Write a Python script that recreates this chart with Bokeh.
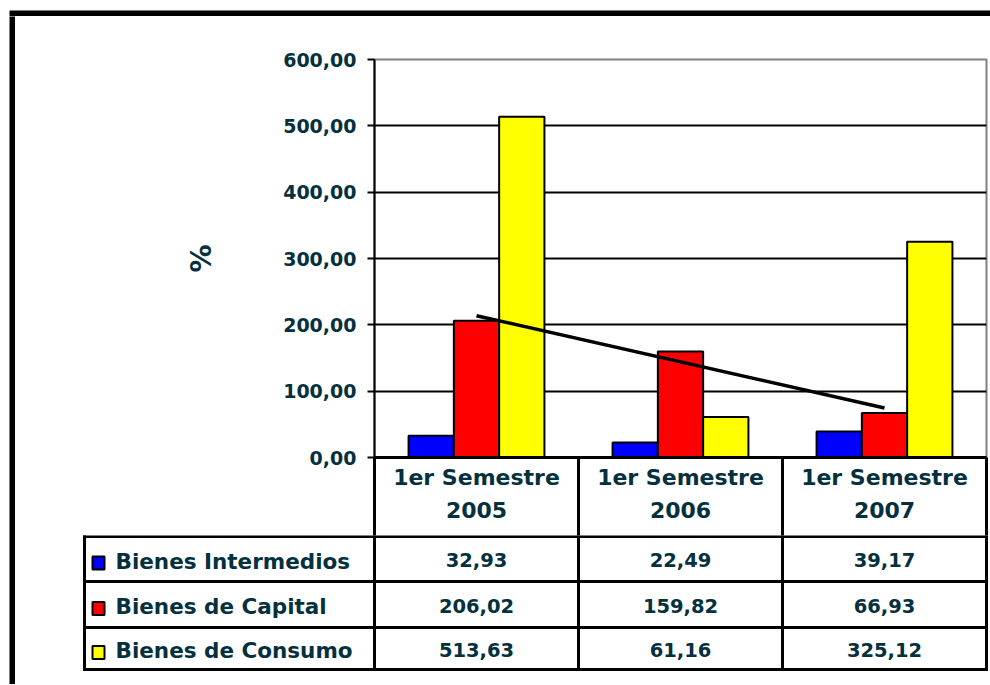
import numpy as np
from bokeh.plotting import figure
from bokeh.layouts import column, row
from bokeh.models import (Range1d, FixedTicker, CustomJSTickFormatter,
                          ColumnDataSource, Spacer)
from bokeh.core.properties import value
from bokeh.embed import file_html
from bokeh.resources import INLINE

# ---------------- data ----------------
categories = ["1er Semestre 2005", "1er Semestre 2006", "1er Semestre 2007"]
series_names = ["Bienes Intermedios", "Bienes de Capital", "Bienes de Consumo"]
intermedios = [32.93, 22.49, 39.17]
capital = [206.02, 159.82, 66.93]
consumo = [513.63, 61.16, 325.12]
y_ticks = [0, 100, 200, 300, 400, 500, 600]
series_colors = ["#0000FF", "#FF0000", "#FFFF00"]
y_label = "%"

FONT = "DejaVu Sans"
TXT = "#05303e"

# ---------------- layout constants (content pixels) ----------------
W = 975
FRAME_L, FRAME_R = 359, 971
FRAME_T, FRAME_B = 43, 441
HDR_H = 78
HA = FRAME_B + HDR_H
HB = 149
TABLE_L = 69
ROW_EDGES = [1, 46, 92, 134]
TOP_H = 16

series_values = [intermedios, capital, consumo]
n = len(categories)
CAT_W = (FRAME_R - FRAME_L) / n


def fmt(v):
    return f"{v:.2f}".replace(".", ",")


def no_align(f):
    if "frame_align" in f.properties():
        f.frame_align = False
    return f


header_labels = [c.rsplit(" ", 1)[0] + "\n" + c.rsplit(" ", 1)[1] for c in categories]

# ---------------- chart figure ----------------
pA = figure(width=W, height=HA, x_range=Range1d(0, n), y_range=Range1d(0, 600),
            output_backend="svg", toolbar_location=None,
            min_border_left=FRAME_L, min_border_right=W - FRAME_R,
            min_border_top=FRAME_T, min_border_bottom=HDR_H)
no_align(pA)
pA.background_fill_color = "white"
pA.outline_line_color = "#808080"
pA.outline_line_width = 2
pA.xgrid.grid_line_color = None
pA.ygrid.ticker = FixedTicker(ticks=y_ticks[1:-1])
pA.ygrid.grid_line_color = "black"
pA.ygrid.grid_line_width = 2

ya = pA.yaxis[0]
ya.ticker = FixedTicker(ticks=y_ticks)
ya.formatter = CustomJSTickFormatter(code="return tick.toFixed(2).replace('.', ',');")
ya.major_tick_in = 0
ya.major_tick_out = 7
ya.minor_tick_line_color = None
ya.major_tick_line_width = 2
ya.axis_line_width = 2
ya.axis_line_color = "black"
ya.major_label_standoff = 11
ya.major_label_text_font = FONT
ya.major_label_text_font_size = "19px"
ya.major_label_text_font_style = "bold"
ya.major_label_text_color = TXT
ya.axis_label = y_label
ya.axis_label_text_font = FONT
ya.axis_label_text_font_size = "28px"
ya.axis_label_text_font_style = "bold"
ya.axis_label_text_color = TXT
ya.axis_label_standoff = 62

# category axis = header row of the data table
xa = pA.xaxis[0]
xa.ticker = FixedTicker(ticks=[i + 0.5 for i in range(n)], minor_ticks=list(range(n + 1)))
xa.formatter = CustomJSTickFormatter(args=dict(labels=header_labels),
                                     code="return labels[Math.round(tick - 0.5)];")
xa.major_tick_line_color = None
xa.major_tick_in = 0
xa.major_tick_out = 0
xa.minor_tick_in = 0
xa.minor_tick_out = HDR_H
xa.minor_tick_line_width = 3
xa.minor_tick_line_color = "black"
xa.axis_line_width = 3
xa.axis_line_color = "black"
xa.major_label_standoff = 7 - HDR_H
xa.major_label_text_font = FONT
xa.major_label_text_font_size = "22px"
xa.major_label_text_font_style = "bold"
xa.major_label_text_color = TXT
xa.major_label_text_line_height = 1.35

bw = 0.222
xc = np.arange(n) + 0.5
for i, vals in enumerate(series_values):
    src = ColumnDataSource(dict(x=xc + (i - 1) * bw, top=vals))
    pA.vbar(x="x", top="top", width=bw, source=src, fill_color=series_colors[i],
            line_color="black", line_width=2)

# linear trend line of "Bienes de Capital"
coef = np.polyfit(np.arange(n), capital, 1)
trend = np.polyval(coef, [0, n - 1])
pA.line(x=[xc[0], xc[-1]], y=list(trend), line_color="black", line_width=3.5)

# ---------------- data table figure ----------------
pB = figure(width=W, height=HB, x_range=Range1d(0, W), y_range=Range1d(HB, 0),
            x_axis_location=None, y_axis_location=None, min_border=0,
            output_backend="svg", toolbar_location=None)
no_align(pB)
pB.outline_line_color = None
pB.grid.visible = False

col_edges = [FRAME_L + i * CAT_W for i in range(n + 1)]
centers = [FRAME_L + (i + 0.5) * CAT_W for i in range(n)]

pB.segment(x0=[TABLE_L] * len(ROW_EDGES), y0=ROW_EDGES, x1=[FRAME_R] * len(ROW_EDGES), y1=ROW_EDGES,
           line_color="black", line_width=3, line_cap="square")
vx = [TABLE_L] + col_edges
pB.segment(x0=vx, y0=[0] * len(vx), x1=vx, y1=[ROW_EDGES[-1]] * len(vx),
           line_color="black", line_width=3, line_cap="square")

for r, (name, vals) in enumerate(zip(series_names, series_values)):
    yc = (ROW_EDGES[r] + ROW_EDGES[r + 1]) / 2
    pB.rect(x=[TABLE_L + 14], y=[yc + 4], width=12, height=13, fill_color=series_colors[r],
            line_color="black", line_width=2)
    pB.text(x=[TABLE_L + 31], y=[yc + 2], text=[name], text_align="left", text_baseline="middle",
            text_font=value(FONT), text_font_size="21.5px", text_font_style="bold", text_color=TXT)
    pB.text(x=centers, y=[yc + 1] * n, text=[fmt(v) for v in vals], text_align="center",
            text_baseline="middle", text_font=value(FONT), text_font_size="19.5px",
            text_font_style="bold", text_color=TXT)


# ---------------- outer frame ----------------
def plain(w, h, xr, yr):
    f = figure(width=w, height=h, x_range=xr, y_range=yr, x_axis_location=None,
               y_axis_location=None, min_border=0, toolbar_location=None, output_backend="svg")
    no_align(f)
    f.outline_line_color = None
    f.grid.visible = False
    return f


TW = W + 15
top_strip = plain(TW, TOP_H, Range1d(0, TW), Range1d(TOP_H, 0))
top_strip.quad(left=[9], right=[TW], top=[10], bottom=[TOP_H], fill_color="black", line_color=None)

left_bar = plain(6, HA + HB, Range1d(0, 1), Range1d(0, 1))
left_bar.background_fill_color = "black"
left_bar.border_fill_color = "black"

layout = column(
    top_strip,
    row(Spacer(width=9, height=HA + HB), left_bar, column(pA, pB)),
)

open("out.html", "w").write(file_html(layout, INLINE))
